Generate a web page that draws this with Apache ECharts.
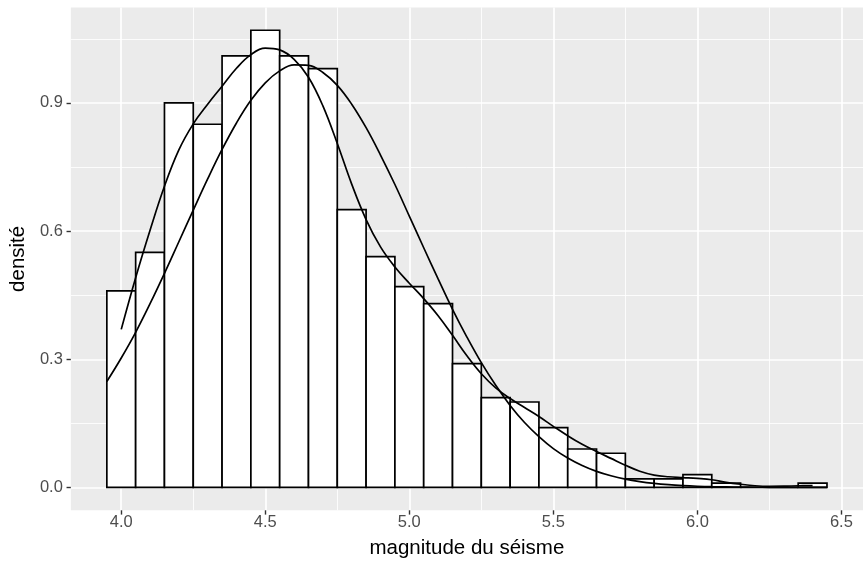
<!DOCTYPE html>
<html>
<head>
<meta charset="utf-8">
<script src="https://cdn.jsdelivr.net/npm/echarts@6/dist/echarts.min.js"></script>
<style>
html,body{margin:0;padding:0;background:#fff;}
#chart{width:863px;height:565px;}
</style>
</head>
<body>
<div id="chart"></div>
<script>
// Histogram bins (centres) and densities
const binCentres = [4.0,4.1,4.2,4.3,4.4,4.5,4.6,4.7,4.8,4.9,5.0,5.1,5.2,5.3,5.4,5.5,5.6,5.7,5.8,5.9,6.0,6.1,6.2,6.3,6.4];
const binDensity = [0.46,0.55,0.90,0.85,1.01,1.07,1.01,0.98,0.65,0.54,0.47,0.43,0.29,0.21,0.20,0.14,0.09,0.08,0.02,0.02,0.03,0.01,0,0,0.01];
const binWidth = 0.1;

// Kernel density curve
const kdeX = [4.00,4.05,4.10,4.15,4.20,4.25,4.30,4.35,4.40,4.45,4.50,4.55,4.60,4.65,4.70,4.75,4.80,4.85,4.90,4.95,5.00,5.05,5.10,5.15,5.20,5.25,5.30,5.35,5.40,5.45,5.50,5.55,5.60,5.65,5.70,5.75,5.80,5.85,5.90,5.95,6.00,6.05,6.10,6.15,6.20,6.25,6.30,6.35,6.40];
const kdeY = [0.370,0.491,0.602,0.705,0.790,0.851,0.897,0.939,0.981,1.013,1.028,1.024,1.002,0.960,0.893,0.805,0.710,0.627,0.563,0.516,0.478,0.442,0.402,0.356,0.308,0.266,0.233,0.208,0.187,0.166,0.143,0.121,0.101,0.084,0.068,0.052,0.038,0.029,0.025,0.023,0.021,0.018,0.012,0.0075,0.004,0.0026,0.0029,0.0039,0.0044];

// Normal curve
const normX = [3.95,4.00,4.05,4.10,4.15,4.20,4.25,4.30,4.35,4.40,4.45,4.50,4.55,4.60,4.65,4.70,4.75,4.80,4.85,4.90,4.95,5.00,5.05,5.10,5.15,5.20,5.25,5.30,5.35,5.40,5.45,5.50,5.55,5.60,5.65,5.70,5.75,5.80,5.85,5.90,5.95,6.00,6.05,6.10,6.15,6.20,6.25,6.30,6.35,6.40,6.45];
const normY = [0.248,0.303,0.363,0.430,0.501,0.575,0.649,0.722,0.791,0.853,0.906,0.947,0.975,0.989,0.988,0.971,0.941,0.897,0.842,0.778,0.709,0.635,0.561,0.488,0.417,0.352,0.292,0.239,0.192,0.152,0.119,0.091,0.069,0.0515,0.0377,0.0273,0.0194,0.0136,0.0094,0.0064,0.0043,0.0028,0.0018,0.0012,0.0007,0.0005,0.0003,0.0002,0.0001,0.0001,0.0];

// Axis ticks
const xMajor = [4.0,4.5,5.0,5.5,6.0,6.5];
const xMinor = [4.25,4.75,5.25,5.75,6.25];
const yMajor = [0.0,0.3,0.6,0.9];
const yMinor = [0.15,0.45,0.75,1.05];

const FONT = 'Liberation Sans, Arial, Helvetica, sans-serif';
const xMin = 3.825, xMax = 6.575, yMin = -0.0535, yMax = 1.1235;

const chart = echarts.init(document.getElementById('chart'), null, {renderer:'canvas'});

const histData = binCentres.map((c,i)=>[c, binDensity[i]]);
const kdeData = kdeX.map((x,i)=>[x, kdeY[i]]);
const normData = normX.map((x,i)=>[x, normY[i]]);

chart.setOption({
  backgroundColor: '#ffffff',
  animation: false,
  grid: {left:70, top:7.4, width:796.7, height:502.9, show:true, backgroundColor:'#EBEBEB', borderWidth:0, containLabel:false},
  xAxis: [
    {
      type:'value', min:xMin, max:xMax, position:'bottom',
      name:'magnitude du séisme', nameLocation:'middle', nameGap:28,
      nameTextStyle:{color:'#000', fontSize:20.5, fontFamily:FONT},
      axisLine:{show:false, onZero:false},
      axisTick:{show:true, length:4.3, customValues:xMajor, lineStyle:{color:'#333333', width:1.4}},
      axisLabel:{show:true, customValues:xMajor, margin:4, color:'#4D4D4D', fontSize:16.5, fontFamily:FONT, formatter:v=>Number(v).toFixed(1)},
      splitLine:{show:true, lineStyle:{color:'#ffffff', width:1.7}}
    },
    {
      type:'value', min:xMin, max:xMax, position:'bottom',
      axisLine:{show:false, onZero:false},
      axisTick:{show:false, customValues:xMinor},
      axisLabel:{show:false, customValues:xMinor},
      splitLine:{show:true, lineStyle:{color:'#ffffff', width:0.85}}
    }
  ],
  yAxis: [
    {
      type:'value', min:yMin, max:yMax, position:'left',
      name:'densité', nameLocation:'middle', nameGap:38, nameRotate:90,
      nameTextStyle:{color:'#000', fontSize:20.5, fontFamily:FONT},
      axisLine:{show:false, onZero:false},
      axisTick:{show:true, length:4.3, customValues:yMajor, lineStyle:{color:'#333333', width:1.4}},
      axisLabel:{show:true, customValues:yMajor, margin:8, color:'#4D4D4D', fontSize:16.5, fontFamily:FONT, formatter:v=>Number(v).toFixed(1)},
      splitLine:{show:true, lineStyle:{color:'#ffffff', width:1.7}}
    },
    {
      type:'value', min:yMin, max:yMax, position:'left',
      axisLine:{show:false, onZero:false},
      axisTick:{show:false, customValues:yMinor},
      axisLabel:{show:false, customValues:yMinor},
      splitLine:{show:true, lineStyle:{color:'#ffffff', width:0.85}}
    }
  ],
  series: [
    {
      type:'custom', xAxisIndex:0, yAxisIndex:0, data:histData, clip:true, z:2,
      encode:{x:0, y:1},
      renderItem:function(params, api){
        const c = api.value(0), d = api.value(1);
        const p0 = api.coord([c - binWidth/2, d]);
        const p1 = api.coord([c + binWidth/2, 0]);
        return {type:'rect', shape:{x:p0[0], y:p0[1], width:p1[0]-p0[0], height:p1[1]-p0[1]},
          style:{fill:'#ffffff', stroke:'#000000', lineWidth:1.7}};
      }
    },
    {
      type:'line', xAxisIndex:0, yAxisIndex:0, data:kdeData, smooth:0.4, showSymbol:false, z:3,
      lineStyle:{color:'#000000', width:1.7}
    },
    {
      type:'line', xAxisIndex:0, yAxisIndex:0, data:normData, smooth:0.4, showSymbol:false, z:3,
      lineStyle:{color:'#000000', width:1.7}
    }
  ]
});
</script>
</body>
</html>
